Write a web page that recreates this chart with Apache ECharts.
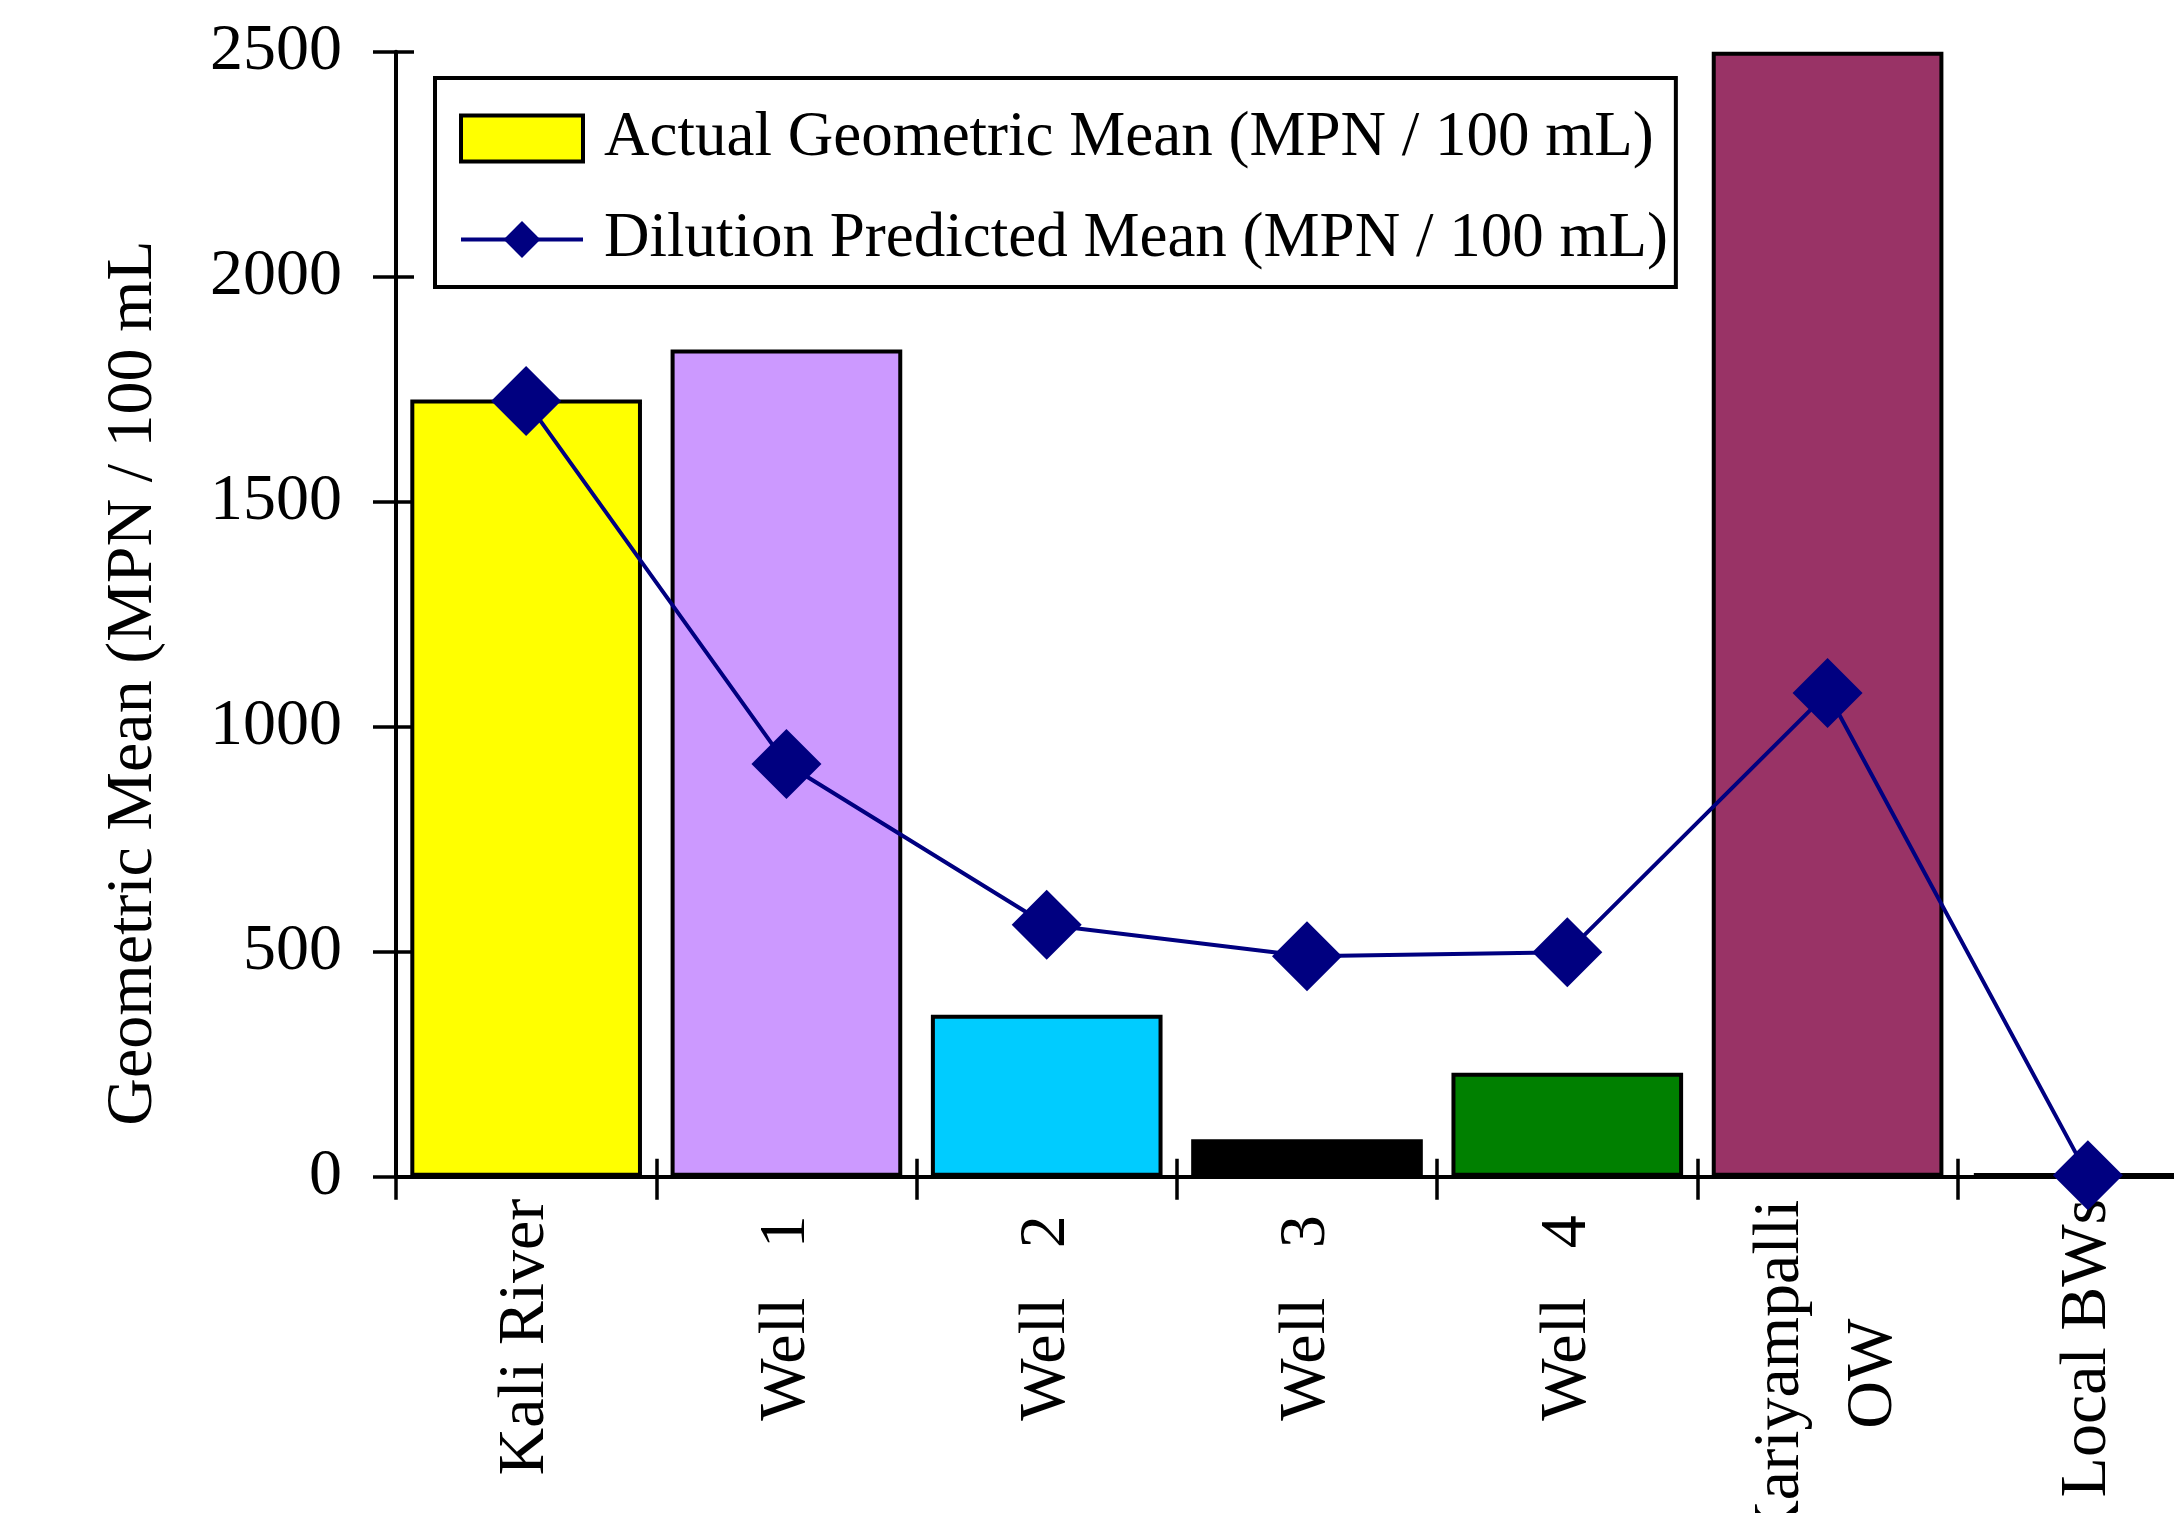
<!DOCTYPE html>
<html>
<head>
<meta charset="utf-8">
<script src="https://cdn.jsdelivr.net/npm/echarts@6/dist/echarts.min.js"></script>
<style>
html,body{margin:0;padding:0;background:#fff;overflow:hidden;}
#chart{width:2174px;height:1513px;}
</style>
</head>
<body>
<div id="chart"></div>
<script>
// ---- data ----
var categories = ['Kali River', 'Well   1 ', 'Well   2 ', 'Well   3 ', 'Well   4 ', 'Kariyampalli\nOW', 'Local BWs'];
var actualMean = [1727, 1838, 360, 83, 231, 2500, 8];
var predictedMean = [1724, 917, 560, 490, 499, 1075, 3];
var barColors = ['#FFFF00', '#CC99FF', '#00CCFF', '#000000', '#008000', '#993366', '#000000'];
var yTicks = [0, 500, 1000, 1500, 2000, 2500];
var seriesNames = ['Actual Geometric Mean (MPN / 100 mL)', 'Dilution Predicted Mean (MPN / 100 mL)'];
var yTitle = 'Geometric Mean (MPN / 100 mL';

var FONT = "'Liberation Serif', 'Times New Roman', serif";

var chart = echarts.init(document.getElementById('chart'));

var barData = actualMean.map(function (v, i) {
  return { value: v, itemStyle: { color: barColors[i] } };
});

var labelRich = {
  c: { width: 350, align: 'center', lineHeight: 93, fontSize: 66, fontFamily: FONT, color: '#000' }
};

var option = {
  backgroundColor: '#ffffff',
  animation: false,
  grid: { left: 396, top: 51.7, bottom: 336.3, width: 1822, containLabel: false, outerBoundsMode: 'none' },
  legend: {
    orient: 'vertical',
    left: 435,
    top: 78,
    padding: [29, 8, 16, 24],
    itemGap: 38,
    itemWidth: 122,
    itemHeight: 46,
    borderColor: '#000',
    borderWidth: 4,
    borderRadius: 0,
    backgroundColor: '#ffffff',
    textStyle: { fontFamily: FONT, fontSize: 63, color: '#000', lineHeight: 63, padding: [0, 0, 0, 16] },
    data: [
      { name: seriesNames[0], icon: 'rect', itemStyle: { color: '#FFFF00', borderColor: '#000', borderWidth: 4 } },
      { name: seriesNames[1], lineStyle: { color: '#000080', width: 4 } }
    ]
  },
  xAxis: [
    {
      type: 'category',
      data: categories,
      position: 'bottom',
      boundaryGap: true,
      axisLine: { show: true, onZero: false, lineStyle: { color: '#000', width: 4 } },
      axisTick: { show: true, inside: false, length: 23, lineStyle: { color: '#000', width: 3.5 } },
      axisLabel: {
        show: true,
        rotate: 90,
        margin: 22,
        interval: 0,
        fontFamily: FONT,
        fontSize: 66,
        color: '#000',
        formatter: function (v) {
          if (v.indexOf('\n') >= 0) {
            return v.split('\n').map(function (s) { return '{c|' + s + '}'; }).join('\n');
          }
          return v;
        },
        rich: labelRich
      },
      splitLine: { show: false }
    },
    {
      type: 'category',
      data: categories,
      position: 'bottom',
      offset: 0,
      boundaryGap: true,
      axisLine: { show: false },
      axisTick: { show: true, inside: true, length: 18, lineStyle: { color: '#000', width: 3.5 } },
      axisLabel: { show: false },
      splitLine: { show: false }
    }
  ],
  yAxis: [
    {
      type: 'value',
      min: 0,
      max: 2500,
      interval: 500,
      position: 'left',
      axisLine: { show: true, lineStyle: { color: '#000', width: 4 } },
      axisTick: { show: true, inside: false, length: 23, lineStyle: { color: '#000', width: 3.5 } },
      axisLabel: {
        margin: 54,
        fontFamily: FONT,
        fontSize: 66,
        color: '#000',
        formatter: function (v) { return yTicks.indexOf(v) >= 0 ? String(v) : ''; }
      },
      splitLine: { show: false }
    },
    {
      type: 'value',
      min: 0,
      max: 2500,
      interval: 500,
      position: 'left',
      offset: 0,
      axisLine: { show: false },
      axisTick: { show: true, inside: true, length: 18, lineStyle: { color: '#000', width: 3.5 } },
      axisLabel: { show: false },
      splitLine: { show: false }
    }
  ],
  graphic: [
    {
      type: 'text',
      x: 134,
      y: 683,
      rotation: Math.PI / 2,
      style: {
        text: yTitle,
        font: '66px ' + FONT,
        fill: '#000',
        textAlign: 'center',
        textVerticalAlign: 'middle'
      }
    }
  ],
  series: [
    {
      name: seriesNames[0],
      type: 'bar',
      xAxisIndex: 0,
      yAxisIndex: 0,
      barCategoryGap: '11%',
      itemStyle: { color: '#FFFF00', borderColor: '#000', borderWidth: 4 },
      data: barData,
      clip: true,
      z: 2
    },
    {
      name: seriesNames[1],
      type: 'line',
      xAxisIndex: 0,
      yAxisIndex: 0,
      data: predictedMean,
      symbol: 'diamond',
      symbolSize: 70,
      color: '#000080',
      lineStyle: { color: '#000080', width: 4 },
      itemStyle: { color: '#000080' },
      z: 5
    }
  ]
};

chart.setOption(option);
</script>
</body>
</html>
